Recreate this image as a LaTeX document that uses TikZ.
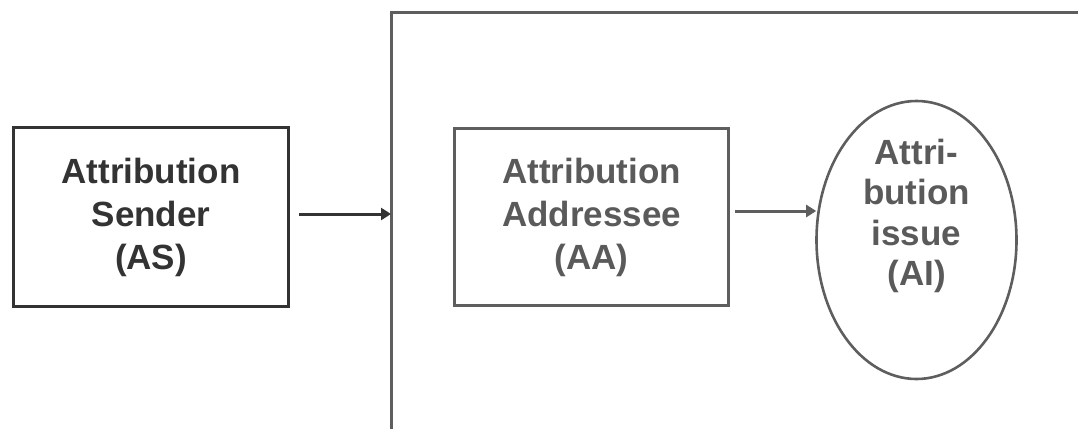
\documentclass[tikz,border=0pt]{standalone}
\usepackage{fontspec}
\setmainfont{Liberation Sans}
\usetikzlibrary{arrows.meta,shapes.geometric}
\definecolor{darktxt}{HTML}{333333}
\definecolor{graytxt}{HTML}{5A5A5A}
\definecolor{grayline}{HTML}{5E5E5E}
\tikzset{
  lbl/.style={font=\fontsize{35}{43}\selectfont\bfseries, align=center, inner sep=0pt},
  sendbox/.style={lbl, draw=darktxt, line width=3pt, text=darktxt, minimum width=275pt, minimum height=179pt},
  addrbox/.style={lbl, draw=grayline, line width=2.6pt, text=graytxt, minimum width=274pt, minimum height=177pt},
  issueell/.style={ellipse, draw=grayline, line width=2.6pt, minimum width=200pt, minimum height=278pt, inner sep=0pt},
  issuetxt/.style={font=\fontsize{35}{40.5}\selectfont\bfseries, align=center, inner sep=0pt, text=graytxt},
  arr/.style={-{Triangle[length=10pt,width=12pt]}, line width=3pt},
}
\begin{document}
\begin{tikzpicture}[x=1pt,y=-1pt]
\useasboundingbox (0,0) rectangle (1078,428);
% outer frame
\coordinate (ftop) at (391,13);
\coordinate (fbot) at (391,432);
\coordinate (fright) at (1082,13);
\draw[grayline, line width=3pt] (fbot) -- (ftop) -- (fright);
% nodes
\node[sendbox] (AS) at (151,217) {Attribution\\Sender\\(AS)};
\node[addrbox] (AA) at (591.5,217) {Attribution\\Addressee\\(AA)};
\node[issueell] (AI) at (916.5,240) {};
\node[issuetxt] (AIt) at (916.5,216) {Attri-\\bution\\issue\\(AI)};
% arrows
\coordinate (fin) at (391,214);
\draw[arr, darktxt] ([xshift=9pt,yshift=3pt]AS.east) -- (fin);
\draw[arr, grayline] ([xshift=5pt,yshift=6pt]AA.east) -- ([xshift=1pt,yshift=29pt]AI.west);
\end{tikzpicture}
\end{document}
